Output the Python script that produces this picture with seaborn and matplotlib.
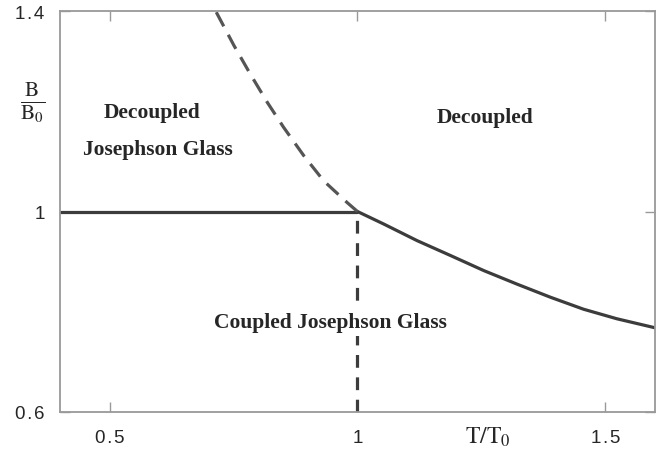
import pandas as pd
import numpy as np
import seaborn as sns
import matplotlib.pyplot as plt

# phase boundaries
t_upper = [1.0, 0.979, 0.932, 0.892, 0.851, 0.818, 0.784, 0.751, 0.714, 0.70]
b_upper = [1.0, 1.018, 1.061, 1.111, 1.168, 1.218, 1.274, 1.331, 1.40, 1.43]

t_right = [1.0, 1.053, 1.120, 1.188, 1.255, 1.322, 1.389, 1.456, 1.523, 1.60]
b_right = [1.0, 0.975, 0.942, 0.912, 0.882, 0.855, 0.829, 0.805, 0.786, 0.768]

t_flat = [0.4, 1.0]
b_flat = [1.0, 1.0]

t_vert = [1.0, 1.0]
b_vert = [0.6, 1.0]

x_ticks = [0.5, 1, 1.5]
x_labels = ["0\u200a.\u200a5", "1", "1\u200a.\u200a5"]
y_ticks = [0.6, 1, 1.4]
y_labels = ["0\u200a.\u200a6", "1", "1\u200a.\u200a4"]

sns.set_style("ticks")
plt.rcParams['mathtext.fontset'] = 'stix'

fig = plt.figure(figsize=(6.68, 4.64), dpi=100)
ax = fig.add_axes([0.0898, 0.11, 0.8907, 0.864])

line_col = "#3c3c3c"
kw = dict(ax=ax, lw=2.3, sort=False, estimator=None)
sns.lineplot(x=t_flat, y=b_flat, color=line_col, **kw)
sns.lineplot(x=t_right, y=b_right, color=line_col, **kw)
sns.lineplot(x=t_upper, y=b_upper, color="#555555", **kw)
ax.lines[-1].set_dashes((5, 3))
sns.lineplot(x=t_vert, y=b_vert, color=line_col, **kw)
ax.lines[-1].set_dashes((4, 3))

ax.set_xlim(0.4, 1.6)
ax.set_ylim(0.6, 1.4)
ax.set_xticks(x_ticks)
ax.set_xticklabels(x_labels)
ax.set_yticks(y_ticks)
ax.set_yticklabels(y_labels)
ax.tick_params(direction="in", length=7, width=1, color="#999999",
               top=True, right=True, labelsize=13.5)
ax.tick_params(axis="x", pad=12)
ax.tick_params(axis="y", pad=11)
for lab in ax.get_xticklabels() + ax.get_yticklabels():
    lab.set_family("Liberation Sans")
for s in ax.spines.values():
    s.set_color("#999999")
    s.set_linewidth(1.3)

txt = dict(family="Liberation Serif", fontweight="bold", fontsize=15.5, ha="center", va="center")
ax.text(0.585, 1.198, "Decoupled", **txt)
ax.text(0.597, 1.125, "Josephson Glass", **txt)
ax.text(1.257, 1.189, "Decoupled", **txt)
ax.text(0.946, 0.780, "Coupled Josephson Glass", zorder=5,
        bbox=dict(facecolor="white", edgecolor="none", pad=3), **txt)

ax.text(1.262, -0.06, r"$\mathrm{T/T_0}$", transform=ax.get_xaxis_transform(),
        ha="center", va="center", fontsize=17)
ax.text(-0.047, 1.22, r"$\frac{\mathrm{B}}{\mathrm{B_0}}$", ha="center", va="center",
        fontsize=22, transform=ax.get_yaxis_transform())

fig.savefig("out.png", dpi=100)
